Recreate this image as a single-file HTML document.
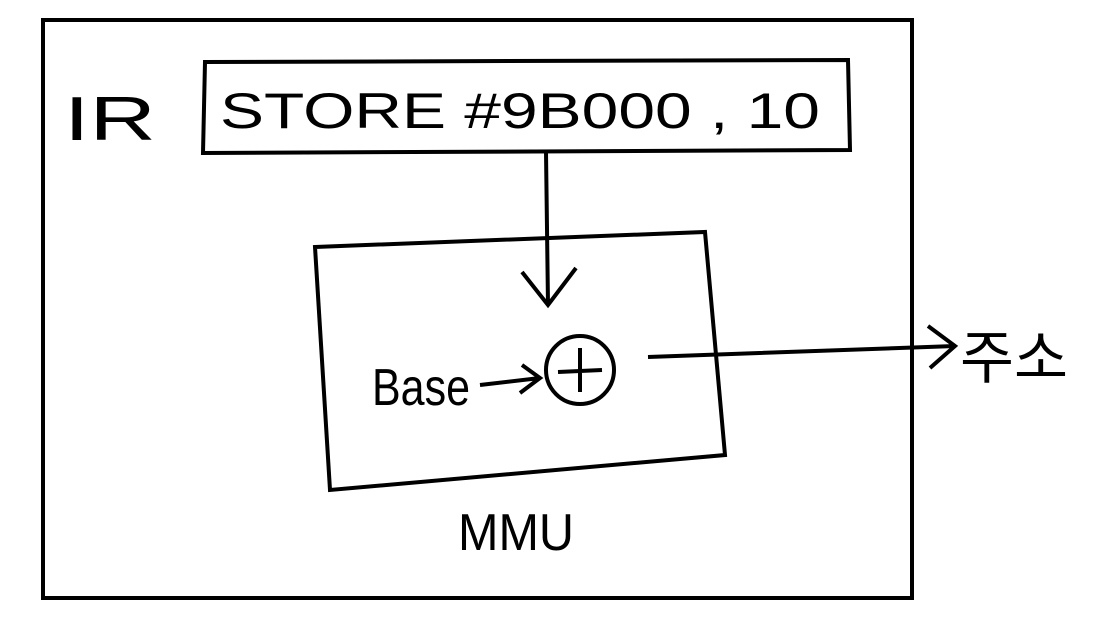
<!DOCTYPE html>
<html><head><meta charset="utf-8"><style>
html,body{margin:0;padding:0;background:#fff;}
svg{display:block}
text{font-family:"Liberation Sans","Noto Sans CJK KR",sans-serif;fill:#000}
</style></head><body>
<svg width="1118" height="632" viewBox="0 0 1118 632">
<rect x="43" y="20" width="869" height="578" fill="none" stroke="#000" stroke-width="4"/>
<text x="64" y="140" font-size="62" textLength="92" lengthAdjust="spacingAndGlyphs">IR</text>
<path d="M205 62 L848 60 L850 150 L203 153 Z" fill="none" stroke="#000" stroke-width="4"/>
<text x="220" y="128" font-size="50" textLength="600" lengthAdjust="spacingAndGlyphs">STORE  #9B000 , 10</text>
<path d="M546 152 L548 305 M522 272 L548 305 L576 268" fill="none" stroke="#000" stroke-width="4"/>
<path d="M315 247 L705 232 L725 455 L330 490 Z" fill="none" stroke="#000" stroke-width="4"/>
<circle cx="580" cy="370" r="34" fill="none" stroke="#000" stroke-width="4"/>
<path d="M580 348 L580 392 M558 372 L602 370" stroke="#000" stroke-width="4"/>
<text x="372" y="405" font-size="52" textLength="98" lengthAdjust="spacingAndGlyphs">Base</text>
<path d="M480 385 L540 378 M522 365 L540 378 L520 393" fill="none" stroke="#000" stroke-width="4"/>
<path d="M648 357 L955 346 M928 326 L955 346 L930 368" fill="none" stroke="#000" stroke-width="4"/>
<text x="960" y="378" font-size="58" textLength="108" lengthAdjust="spacingAndGlyphs">주소</text>
<text x="458" y="550" font-size="52" textLength="116" lengthAdjust="spacingAndGlyphs">MMU</text>
</svg>
</body></html>
